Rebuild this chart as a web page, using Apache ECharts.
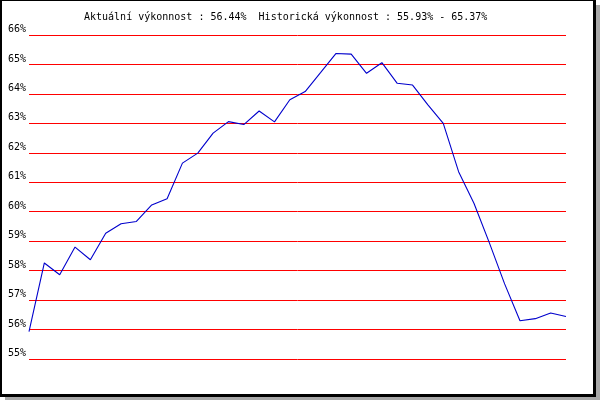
<!DOCTYPE html>
<html>
<head>
<meta charset="utf-8">
<script src="https://cdn.jsdelivr.net/npm/echarts@6/dist/echarts.min.js"></script>
<style>html,body{margin:0;padding:0;background:#fff;}#c{width:600px;height:400px;}</style>
</head>
<body>
<div id="c"></div>
<script>
const titleText = 'Aktuální výkonnost : 56.44%  Historická výkonnost : 55.93% - 65.37%';
const categories = ['1','2','3','4','5','6','7','8','9','10','11','12','13','14','15','16','17','18',
  '19','20','21','22','23','24','25','26','27','28','29','30','31','32','33','34','35','36'];
const performance = [55.93, 58.26, 57.86, 58.80, 58.37, 59.27, 59.59, 59.67, 60.23, 60.44,
  61.65, 61.99, 62.67, 63.06, 62.96, 63.42, 63.05, 63.80, 64.08, 64.72,
  65.37, 65.35, 64.70, 65.06, 64.36, 64.30, 63.63, 63.00, 61.36, 60.29,
  58.95, 57.55, 56.30, 56.37, 56.56, 56.44];
const yMin = 55, yMax = 66, yStep = 1;
const FONT = '"DejaVu Sans Mono", monospace';

const chart = echarts.init(document.getElementById('c'), null, {renderer: 'canvas'});
chart.setOption({
  animation: false,
  backgroundColor: '#ffffff',
  title: {
    text: titleText,
    left: 79, top: 7,
    textStyle: {fontFamily: FONT, fontSize: 10, fontWeight: 'normal', color: '#000'}
  },
  graphic: [
    {type: 'rect', silent: true, shape: {x: 596, y: 5, width: 4, height: 395}, style: {fill: '#a8a8a8'}},
    {type: 'rect', silent: true, shape: {x: 5, y: 397, width: 595, height: 3}, style: {fill: '#a8a8a8'}},
    {type: 'rect', silent: true, shape: {x: 0.5, y: -0.5, width: 594, height: 396}, style: {fill: 'none', stroke: '#000', lineWidth: 3}}
  ],
  grid: {left: 29, right: 34, top: 35, bottom: 41, containLabel: false},
  xAxis: {
    type: 'category', data: categories, boundaryGap: false,
    axisLine: {show: false}, axisTick: {show: false}, axisLabel: {show: false}, splitLine: {show: false}
  },
  yAxis: {
    type: 'value', min: yMin, max: yMax, interval: yStep,
    axisLine: {show: false}, axisTick: {show: false},
    axisLabel: {formatter: '{value}%', fontFamily: FONT, fontSize: 10, color: '#000', margin: 3,
      verticalAlign: 'bottom', lineHeight: 11},
    splitLine: {show: true, lineStyle: {color: '#ff0000', width: 1}}
  },
  series: [{
    type: 'line', data: performance, symbol: 'none', smooth: false,
    lineStyle: {color: '#0000cc', width: 1.1}
  }]
});
</script>
</body>
</html>
